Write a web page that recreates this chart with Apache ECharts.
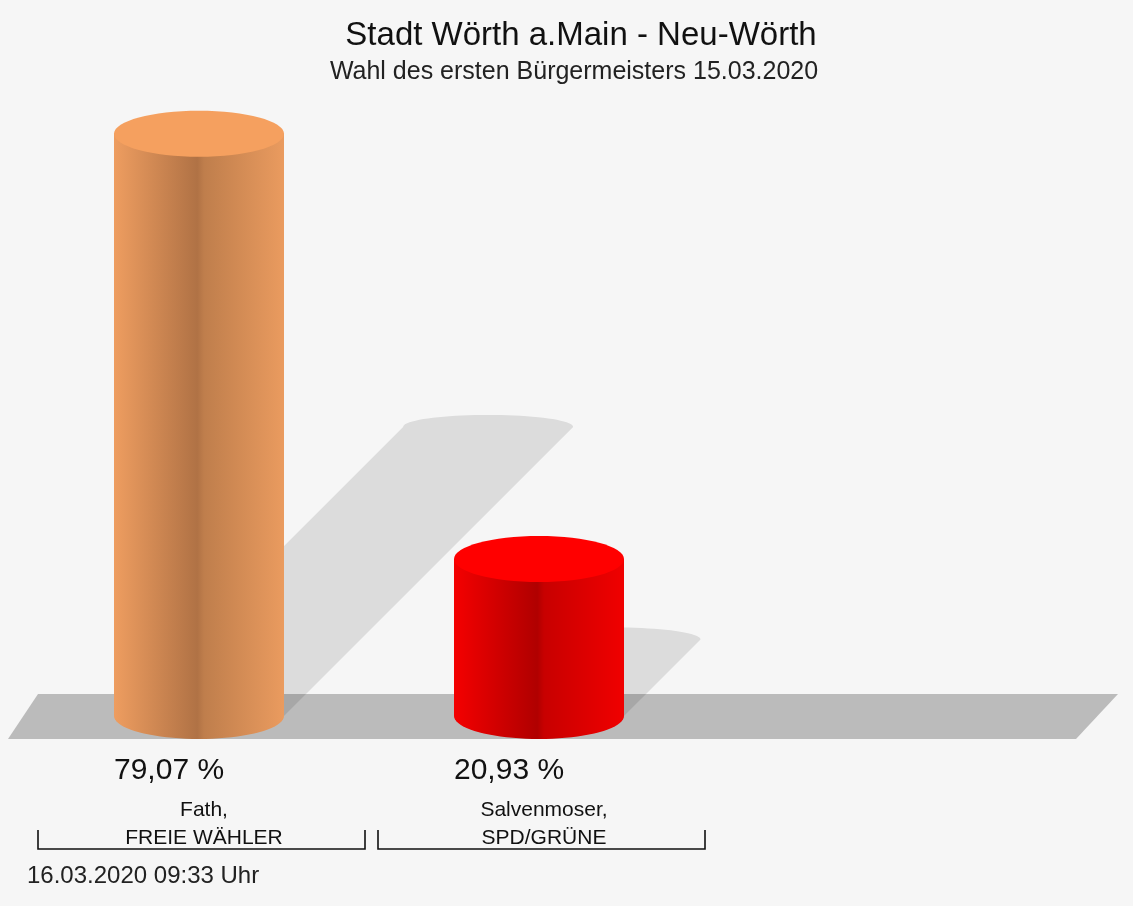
<!DOCTYPE html>
<html>
<head>
<meta charset="UTF-8">
<title>Stadt Wörth a.Main - Neu-Wörth</title>
<script src="https://cdn.jsdelivr.net/npm/echarts@6/dist/echarts.min.js"></script>
<style>
  html, body { margin: 0; padding: 0; background: #fff; }
  #main { width: 1133px; height: 906px; filter: blur(0.6px); }
</style>
</head>
<body>
<div id="main"></div>
<script type="text/javascript">
var titleText = 'Stadt Wörth a.Main - Neu-Wörth';
var subtitleText = 'Wahl des ersten Bürgermeisters 15.03.2020';
var dateText = '16.03.2020 09:33 Uhr';
var categories = ['Fath,\nFREIE WÄHLER', 'Salvenmoser,\nSPD/GRÜNE', ''];
var percentValues = [79.07, 20.93];
var percentLabels = ['79,07 %', '20,93 %'];
var sideColors = [
  ['#ee9d60', '#b07245', '#bf7e4c', '#ea9b5f'],
  ['#f40000', '#b00000', '#c80000', '#f00000']
];
var topColors = ['#f5a05f', '#ff0000'];

var FONT = '"Liberation Sans", Arial, sans-serif';
var RX = 85, RY = 23;

// half ellipse as polygon points
function arc(cx, cy, rx, ry, a0, a1) {
  var pts = [];
  for (var i = 0; i <= 40; i++) {
    var a = a0 + (a1 - a0) * i / 40;
    pts.push([cx + rx * Math.cos(a), cy + ry * Math.sin(a)]);
  }
  return pts;
}

function sideGradient(c) {
  return new echarts.graphic.LinearGradient(0, 0, 1, 0, [
    { offset: 0, color: c[0] },
    { offset: 0.49, color: c[1] },
    { offset: 0.53, color: c[2] },
    { offset: 1, color: c[3] }
  ]);
}

// floor plate, spans the whole category band
function renderFloor(params, api) {
  var cs = params.coordSys;
  var y0 = api.coord([0, 0])[1];
  return {
    type: 'polygon',
    shape: { points: [
      [cs.x - 21, y0 + 27],
      [cs.x + 9, y0 - 18],
      [cs.x + cs.width + 69, y0 - 18],
      [cs.x + cs.width + 27, y0 + 27]
    ] },
    style: { fill: '#bbbbbb' }
  };
}

// cast shadow: slants right by half of the bar height
function renderShadow(params, api) {
  var p = api.coord([api.value(0), api.value(1)]);
  var base = api.coord([api.value(0), 0])[1] + 4;
  var h = base - p[1] - 4;
  var cx = p[0] + h / 2;
  var cy = base - h / 2;
  var pts = [[p[0] - RX, base]].concat(arc(cx, cy, RX, 12, Math.PI, 2 * Math.PI));
  pts.push([p[0] + RX, base]);
  return {
    type: 'polygon',
    shape: { points: pts },
    style: { fill: 'rgba(0,0,0,0.105)' }
  };
}

function renderCylinder(params, api) {
  var i = params.dataIndex;
  var p = api.coord([api.value(0), api.value(1)]);
  var base = api.coord([api.value(0), 0])[1] + 4;
  var body = [[p[0] - RX, p[1]]]
    .concat(arc(p[0], base, RX, RY, Math.PI, 0))
    .concat([[p[0] + RX, p[1]]]);
  return {
    type: 'group',
    children: [
      { type: 'polygon', shape: { points: body }, style: { fill: sideGradient(sideColors[i]) } },
      { type: 'ellipse', shape: { cx: p[0], cy: p[1], rx: RX, ry: RY }, style: { fill: topColors[i] } },
      { type: 'text', style: {
          x: p[0] - 85, y: base + 55, text: percentLabels[i],
          font: '500 30px ' + FONT, fill: '#111', textAlign: 'left', textVerticalAlign: 'middle'
      } }
    ]
  };
}

// bracket under each candidate
function renderBracket(params, api) {
  var p = api.coord([api.value(0), 0]);
  var left = p[0] - 161, right = p[0] + 166, top = p[1] + 118, bottom = p[1] + 137;
  return {
    type: 'polyline',
    shape: { points: [[left, top], [left, bottom], [right, bottom], [right, top]] },
    style: { stroke: '#111', lineWidth: 1.6, fill: null }
  };
}

var seriesData = percentValues.map(function (v, i) { return [i, v]; });

var myChart = echarts.init(document.getElementById('main'));
var option = {
  animation: false,
  backgroundColor: '#f6f6f6',
  title: [
    { text: titleText, left: 576, top: 14, textAlign: 'center',
      textStyle: { fontFamily: FONT, fontSize: 33, fontWeight: 'normal', color: '#111' } },
    { text: subtitleText, left: 569, top: 55, textAlign: 'center',
      textStyle: { fontFamily: FONT, fontSize: 25, fontWeight: 'normal', color: '#222' } }
  ],
  grid: { left: 29, width: 1020, top: 127, bottom: 194 },
  xAxis: {
    type: 'category',
    data: categories,
    axisLine: { show: false },
    axisTick: { show: false },
    axisLabel: {
      interval: 0, margin: 84, fontFamily: FONT, fontSize: 21, color: '#111',
      lineHeight: 28, align: 'center', padding: [0, 0, 0, 10]
    }
  },
  yAxis: { type: 'value', min: 0, max: 80, show: false },
  graphic: [
    { type: 'text', left: 27, top: 864, z: 10,
      style: { text: dateText, font: '24px ' + FONT, fill: '#222' } }
  ],
  series: [
    { type: 'custom', renderItem: renderFloor, data: [[0, 0]], z: 1, silent: true },
    { type: 'custom', renderItem: renderShadow, data: seriesData, z: 2, silent: true },
    { type: 'custom', renderItem: renderBracket, data: seriesData, z: 3, silent: true },
    { type: 'custom', renderItem: renderCylinder, data: seriesData, z: 4, silent: true }
  ]
};
myChart.setOption(option);
</script>
</body>
</html>
